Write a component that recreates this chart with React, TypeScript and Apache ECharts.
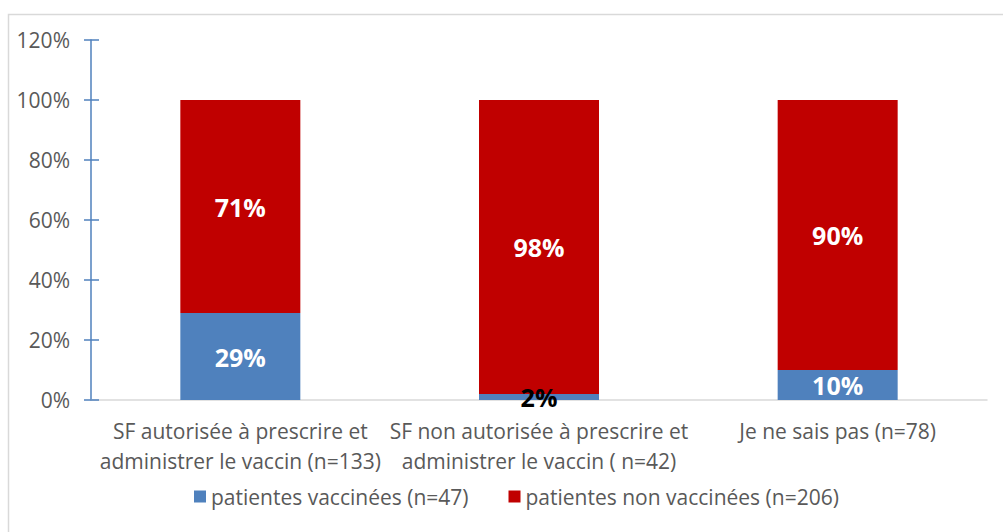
import React, { useEffect, useRef } from "react";
import * as echarts from "echarts";

const categories = [
  "SF autorisée à prescrire et\nadministrer le vaccin (n=133)",
  "SF non autorisée à prescrire et\nadministrer le vaccin ( n=42)",
  "Je ne sais pas (n=78)",
];
const vaccinated = [29, 2, 10];
const notVaccinated = [71, 98, 90];
const seriesNames = ["patientes vaccinées (n=47)", "patientes non vaccinées (n=206)"];
const yTicks = { min: 0, max: 120, interval: 20 };

const FONT = "Open Sans";

export default function App() {
  const ref = useRef<HTMLDivElement>(null);
  useEffect(() => {
    const chart = echarts.init(ref.current!, null, { renderer: "svg" });
    chart.setOption({
      animation: false,
      backgroundColor: "#ffffff",
      textStyle: { fontFamily: FONT },
      graphic: [
        {
          type: "rect",
          shape: { x: 8.5, y: 14.5, width: 1010, height: 540 },
          style: { fill: "none", stroke: "#d9d9d9", lineWidth: 1.5 },
          silent: true,
        },
      ],
      grid: { left: 91, right: 16, top: 40, bottom: 132, containLabel: false },
      legend: {
        bottom: 20,
        left: 189,
        itemWidth: 12,
        itemHeight: 12,
        itemGap: 40,
        icon: "rect",
        textStyle: { fontSize: 21, color: "#595959", fontFamily: FONT },
        data: seriesNames,
      },
      xAxis: {
        type: "category",
        data: categories,
        axisLine: { lineStyle: { color: "#d9d9d9", width: 1.5 } },
        axisTick: { show: false },
        axisLabel: {
          fontSize: 21,
          color: "#595959",
          lineHeight: 30,
          margin: 16,
          interval: 0,
          fontFamily: FONT,
        },
      },
      yAxis: [
        {
          type: "value",
          min: yTicks.min,
          max: yTicks.max,
          interval: yTicks.interval,
          splitLine: { show: false },
          axisLine: { show: true, lineStyle: { color: "#4f81bd", width: 1.5 } },
          axisTick: { show: true, length: 7, lineStyle: { color: "#4f81bd", width: 1.5 } },
          axisLabel: {
            formatter: "{value}%",
            fontSize: 21,
            color: "#595959",
            margin: 21,
            fontFamily: FONT,
          },
        },
        {
          type: "value",
          position: "left",
          min: yTicks.min,
          max: yTicks.max,
          interval: yTicks.interval,
          splitLine: { show: false },
          axisLine: { show: false },
          axisTick: { show: true, inside: true, length: 8, lineStyle: { color: "#4f81bd", width: 1.5 } },
          axisLabel: { show: false },
        },
      ],
      series: [
        {
          name: seriesNames[0],
          type: "bar",
          stack: "total",
          barWidth: 120,
          data: vaccinated.map((v, i) => ({
            value: v,
            label: i === 1 ? { color: "#000000" } : undefined,
          })),
          itemStyle: { color: "#4f81bd" },
          label: {
            show: true,
            position: "inside",
            formatter: "{c}%",
            fontSize: 25,
            fontWeight: "bold",
            color: "#ffffff",
            fontFamily: FONT,
          },
        },
        {
          name: seriesNames[1],
          type: "bar",
          stack: "total",
          barWidth: 120,
          data: notVaccinated,
          itemStyle: { color: "#c00000" },
          label: {
            show: true,
            position: "inside",
            formatter: "{c}%",
            fontSize: 25,
            fontWeight: "bold",
            color: "#ffffff",
            fontFamily: FONT,
          },
        },
      ],
    });
    return () => chart.dispose();
  }, []);
  return (
    <div
      ref={ref}
      style={{ position: "absolute", left: 0, top: 0, width: 1003, height: 532 }}
    />
  );
}
